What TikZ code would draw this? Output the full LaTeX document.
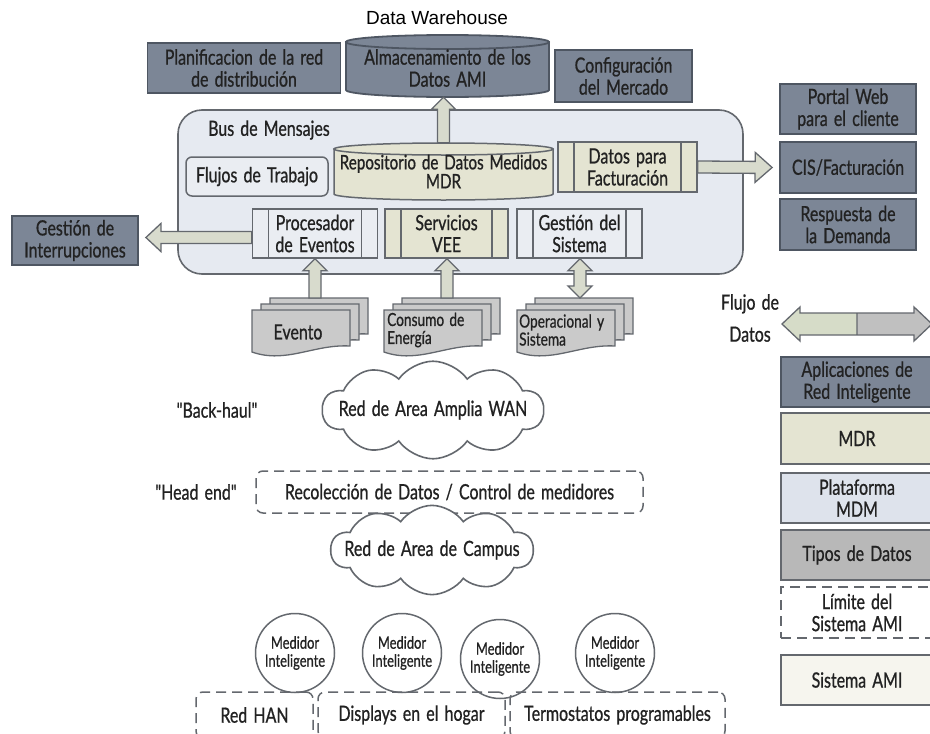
\documentclass[tikz,border=0pt]{standalone}
\usepackage{fontspec}
\setmainfont{Lato}[FakeStretch=0.76, FakeBold=0.8, WordSpace=1.5, Ligatures=TeXOff]
\newfontfamily\dwfont{Liberation Sans}
\usetikzlibrary{shapes.symbols,calc}

\definecolor{slatefill}{RGB}{124,134,150}
\definecolor{slateline}{RGB}{78,86,98}
\definecolor{busfill}{RGB}{230,234,241}
\definecolor{lightfill}{RGB}{234,237,242}
\definecolor{beigefill}{RGB}{228,228,210}
\definecolor{docfill}{RGB}{202,202,202}
\definecolor{greyline}{RGB}{100,104,110}
\definecolor{arrowfill}{RGB}{216,219,205}
\definecolor{typefill}{RGB}{184,184,184}
\definecolor{mdmfill}{RGB}{222,227,236}
\definecolor{amifill}{RGB}{246,245,238}
\definecolor{txt}{RGB}{34,34,34}
\definecolor{flowleft}{RGB}{214,220,200}
\definecolor{flowright}{RGB}{192,192,192}

% hollow block arrow from #1 to #2: body half width #3, head half width #4, head length #5
\newcommand\fatarrow[5]{%
  \draw[fatarrowline] let \p1=(#1), \p2=(#2),
    \n1={atan2(\y2-\y1,\x2-\x1)}, \n2={veclen(\x2-\x1,\y2-\y1)} in
    [shift={(\p1)}, rotate=\n1]
    (0,-#3) -- ({\n2-#5},-#3) -- ({\n2-#5},-#4) -- ({\n2},0)
    -- ({\n2-#5},#4) -- ({\n2-#5},#3) -- (0,#3) -- cycle;}
% the same with a head at both ends
\newcommand\fatdarrow[5]{%
  \draw[fatarrowline] let \p1=(#1), \p2=(#2),
    \n1={atan2(\y2-\y1,\x2-\x1)}, \n2={veclen(\x2-\x1,\y2-\y1)} in
    [shift={(\p1)}, rotate=\n1]
    (0,0) -- (#5,-#4) -- (#5,-#3) -- ({\n2-#5},-#3) -- ({\n2-#5},-#4) -- ({\n2},0)
    -- ({\n2-#5},#4) -- ({\n2-#5},#3) -- (#5,#3) -- (#5,#4) -- cycle;}

\tikzset{
  every node/.style={text=txt, align=center, inner sep=0pt,
    font=\fontsize{21}{22}\selectfont},
  slatebox/.style={draw=slateline, fill=slatefill, line width=1.8pt},
  plainbox/.style={draw=greyline, fill=lightfill, line width=1.5pt},
  beigebox/.style={draw=greyline, fill=beigefill, line width=1.5pt},
  barbox/.style={path picture={
      \draw[greyline, line width=1.5pt]
        ([xshift=16pt]path picture bounding box.north west) --
        ([xshift=16pt]path picture bounding box.south west)
        ([xshift=-16pt]path picture bounding box.north east) --
        ([xshift=-16pt]path picture bounding box.south east);}},
  dashbox/.style={draw=greyline, line width=1.5pt, rounded corners=7pt,
    dash pattern=on 10pt off 6pt},
  fatarrowline/.style={draw=greyline, fill=arrowfill, line width=1.3pt,
    line join=miter},
  cloudnode/.style={cloud, cloud puffs=10, cloud puff arc=110, aspect=3.4,
    inner xsep=-16pt, inner ysep=-8pt,
    draw=greyline, fill=white, line width=1.6pt},
  meter/.style={circle, draw=greyline, fill=white, line width=1.5pt,
    minimum size=79pt, font=\fontsize{17}{18}\selectfont},
  docpage/.style={draw=greyline, fill=docfill, line width=1.3pt},
  docstack/.pic={
    \foreach \dx/\dy in {18/-12, 9/-6, 0/0}
      \path[docpage, shift={(\dx,\dy)}] (0,0) -- (98,0) -- (98,36)
        .. controls (62,34) and (34,54) .. (0,42) -- cycle;
    \coordinate (-top) at (63,-12);
  },
}

\begin{document}
\begin{tikzpicture}[x=1pt, y=-1pt]
\useasboundingbox[fill=white] (0,0) rectangle (930,734);

% ---------- data warehouse ----------
\node[font=\dwfont\fontsize{19}{20}\selectfont, text=black] (dw) at (437,18) {Data Warehouse};
\node[slatebox, minimum width=193pt, minimum height=50pt] (plan) at (244,68)
  {Planificacion de la red\\de distribución};
\path[slatebox] (346,42) -- (346,90)
  arc[start angle=180, end angle=0, x radius=101.5, y radius=7] -- (549,42) -- cycle;
\path[slatebox] (447.5,42) ellipse[x radius=101.5, y radius=7];
\node[minimum width=203pt, minimum height=58pt] (alm) at (447.5,68)
  {Almacenamiento de los\\Datos AMI};
\node[slatebox, minimum width=137pt, minimum height=52pt] (config) at (623.5,76)
  {Configuración\\del Mercado};

% ---------- message bus ----------
\node[draw=greyline, fill=busfill, line width=1.6pt, rounded corners=24pt,
  minimum width=565pt, minimum height=164pt] (bus) at (460.5,192) {};
\node[anchor=west] (buslabel) at (208,130) {Bus de Mensajes};
\node[plainbox, rounded corners=6pt, minimum width=142pt, minimum height=39pt]
  (flujos) at (257,176.5) {Flujos de Trabajo};
\path[beigebox] (334,149) -- (334,194)
  arc[start angle=180, end angle=0, x radius=109.5, y radius=6] -- (553,149) -- cycle;
\path[beigebox] (443.5,149) ellipse[x radius=109.5, y radius=6];
\node[minimum width=219pt, minimum height=57pt,
  font=\fontsize{20}{22}\selectfont] (repo) at (443.5,171.5)
  {Repositorio de Datos Medidos\\[-3pt]MDR};
\node[beigebox, barbox, minimum width=139pt, minimum height=50pt] (fact) at (627.5,167)
  {Datos para\\Facturación};
\node[plainbox, barbox, minimum width=125pt, minimum height=49pt] (proc) at (315,233.5)
  {Procesador\\de Eventos};
\node[beigebox, barbox, minimum width=123pt, minimum height=49pt] (vee) at (446.5,233.5)
  {Servicios\\VEE};
\node[plainbox, barbox, minimum width=125pt, minimum height=49pt] (gest) at (579.5,233.5)
  {Gestión del\\Sistema};

% ---------- applications ----------
\node[slatebox, minimum width=126pt, minimum height=49pt] (gint) at (75,240.5)
  {Gestión de\\Interrupciones};
\node[slatebox, minimum width=136pt, minimum height=50pt] (portal) at (848,109)
  {Portal Web\\para el cliente};
\node[slatebox, minimum width=136pt, minimum height=51pt] (cis) at (848,167.5)
  {CIS/Facturación};
\node[slatebox, minimum width=136pt, minimum height=51pt] (resp) at (848,224.5)
  {Respuesta de\\la Demanda};

% ---------- data types ----------
\pic (ev) at (252,310) {docstack};
\pic (ce) at (384,310) {docstack};
\pic (os) at (517,310) {docstack};
\node (evento) at (298,332) {Evento};
\node[font=\fontsize{18}{18}\selectfont, align=left, anchor=west] (consumo) at (387,330)
  {Consumo de\\Energía};
\node[font=\fontsize{18}{18}\selectfont, align=left, anchor=west] (operac) at (519,330)
  {Operacional y\\Sistema};

% ---------- flows ----------
\fatarrow{repo.north}{repo.north |- alm.south}{6}{12}{12}
\fatarrow{fact.east}{$(cis.west)+(-7,0)$}{6}{15}{17}
\fatarrow{$(proc.west)+(0,4)$}{$(gint.east)+(7,-3)$}{6}{14}{15}
\fatarrow{ev-top}{ev-top |- proc.south}{6}{12}{12}
\fatarrow{ce-top}{ce-top |- vee.south}{6}{12}{12}
\fatdarrow{os-top}{os-top |- gest.south}{6}{12}{12}

% ---------- networks ----------
\node (backhaul) at (217,410) {"Back-haul"};
\node[cloudnode] (wan) at (433,410) {Red de Area Amplia WAN};
\node (headend) at (196,492) {"Head end"};
\node[dashbox, minimum width=387pt, minimum height=42pt] (recol) at (449.5,492)
  {Recolección de Datos / Control de medidores};
\node[cloudnode] (campus) at (432,550) {Red de Area de Campus};

\node[meter] (m1) at (295,653) {Medidor\\Inteligente};
\node[meter] (m2) at (402,653) {Medidor\\Inteligente};
\node[meter] (m3) at (500,659) {Medidor\\Inteligente};
\node[meter] (m4) at (615,653) {Medidor\\Inteligente};

\node[dashbox, minimum width=117pt, minimum height=46pt] (han) at (254.5,715) {Red HAN};
\node[dashbox, minimum width=187pt, minimum height=46pt] (disp) at (411.5,715) {Displays en el hogar};
\node[dashbox, minimum width=215pt, minimum height=46pt] (termo) at (617.5,715) {Termostatos programables};

% ---------- legend ----------
\node (flujolbl) at (750,318) {Flujo de\\[10pt]Datos};
\fill[flowleft] (782,324) -- (800,307) -- (800,313) -- (857,313) -- (857,335)
  -- (800,335) -- (800,341) -- cycle;
\fill[flowright] (857,313) -- (914,313) -- (914,307) -- (932,324) -- (914,341)
  -- (914,335) -- (857,335) -- cycle;
\draw[greyline, line width=1.3pt, line join=miter] (782,324) -- (800,307) -- (800,313)
  -- (914,313) -- (914,307) -- (932,324) -- (914,341) -- (914,335) -- (800,335)
  -- (800,341) -- cycle (857,313) -- (857,335);

\node[slatebox, minimum width=152pt, minimum height=50pt] (lapl) at (857,382)
  {Aplicaciones de\\Red Inteligente};
\node[beigebox, minimum width=152pt, minimum height=51pt] (lmdr) at (857,438.5) {MDR};
\node[draw=greyline, fill=mdmfill, line width=1.5pt, minimum width=152pt,
  minimum height=50pt] (lmdm) at (857,498) {Plataforma\\MDM};
\node[draw=greyline, fill=typefill, line width=1.5pt, minimum width=152pt,
  minimum height=50pt] (ltipos) at (857,555) {Tipos de Datos};
\node[dashbox, rounded corners=0pt, minimum width=152pt, minimum height=51pt]
  (llim) at (857,612.5) {Límite del\\Sistema AMI};
\node[draw=greyline, fill=amifill, line width=1.5pt, minimum width=152pt,
  minimum height=50pt] (lami) at (857,680) {Sistema AMI};
\end{tikzpicture}
\end{document}
